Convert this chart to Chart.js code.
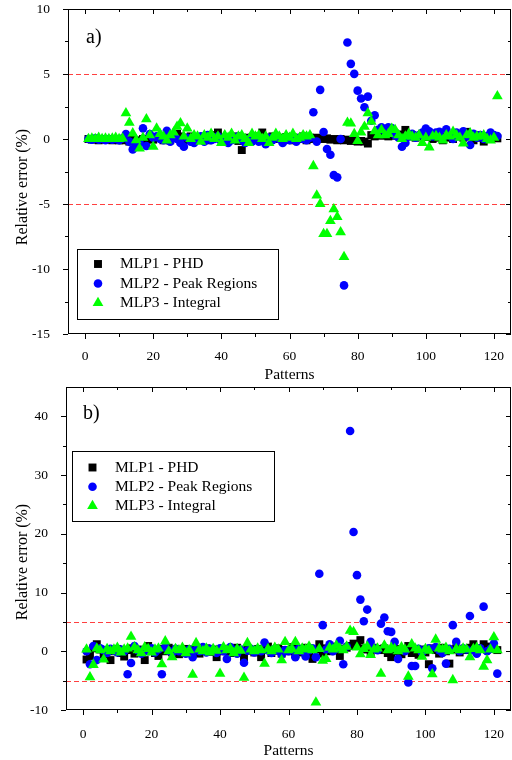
<!DOCTYPE html>
<html>
<head>
<meta charset="utf-8">
<script src="https://cdn.jsdelivr.net/npm/chart.js@4.4.1/dist/chart.umd.min.js"></script>
<style>
  html, body { margin: 0; padding: 0; background: #fff; }
  canvas { position: absolute; left: 0; display: block; }
  #chartA { top: 0; }
  #chartB { top: 384px; }
</style>
</head>
<body>
<canvas id="chartA" width="512" height="384"></canvas>
<canvas id="chartB" width="512" height="376"></canvas>
<script>
const seriesNames = ['MLP1 - PHD', 'MLP2 - Peak Regions', 'MLP3 - Integral'];
const xTicks = [0, 20, 40, 60, 80, 100, 120];
const yTicksA = [-15, -10, -5, 0, 5, 10];
const yTicksB = [-10, 0, 10, 20, 30, 40];
const limitLines = [5, -5];

// panel a) relative error (%) per pattern 1..121
const phdA = [
  0.0, -0.05, 0.0, -0.1, 0.0, -0.05, 0.0, -0.1, -0.05, -0.1,
  -0.1, 0.1, -0.2, 0.05, -0.1, -0.15, 0.0, -0.1, 0.1, -0.05,
  0.15, 0.1, -0.1, 0.2, -0.1, 0.1, 0.4, 0.2, -0.1, 0.1,
  0.2, 0.1, 0.0, 0.15, 0.05, -0.1, 0.2, 0.3, 0.5, 0.0,
  0.1, -0.1, 0.05, 0.2, -0.15, -0.85, 0.1, 0.0, 0.1, 0.2,
  0.0, 0.5, 0.1, -0.1, 0.2, 0.0, 0.1, -0.1, 0.15, 0.0,
  -0.1, 0.1, 0.0, 0.2, -0.1, 0.1, 0.0, 0.1, 0.05, 0.0,
  0.05, -0.05, 0.0, -0.1, 0.0, -0.1, -0.05, -0.15, -0.1, -0.2,
  -0.15, -0.2, -0.35, 0.3, 0.2, 0.35, 0.25, 0.4, 0.2, 0.3,
  0.25, 0.35, 0.1, 0.7, 0.2, 0.3, 0.1, 0.2, 0.4, 0.15,
  0.2, 0.0, 0.3, 0.1, -0.1, 0.2, 0.1, 0.0, 0.3, 0.2,
  0.1, 0.55, 0.2, -0.1, 0.3, 0.1, -0.2, 0.2, 0.0, 0.1, 0.05
];
const peakA = [
  0.0, -0.05, 0.05, -0.05, 0.0, -0.1, 0.0, -0.05, 0.0, -0.1,
  0.05, 0.38, -0.2, -0.8, -0.5, -0.3, 0.82, -0.54, 0.38, 0.1,
  0.2, 0.0, -0.1, 0.64, -0.2, 0.1, 0.0, -0.3, -0.59, 0.1,
  -0.2, -0.3, 0.1, 0.2, -0.2, 0.3, -0.1, 0.0, 0.2, -0.2,
  0.1, -0.3, -0.1, 0.0, 0.2, -0.1, -0.3, 0.0, -0.2, 0.1,
  -0.2, 0.0, -0.4, 0.1, -0.1, 0.2, 0.0, -0.3, 0.1, -0.1,
  0.0, -0.2, 0.1, 0.0, -0.1, 0.1, 2.06, -0.2, 3.78, 0.54,
  -0.77, -1.21, -2.78, -2.95, 0.0, -11.26, 7.42, 5.78, 5.01, 3.72,
  3.11, 2.44, 3.26, 1.4, 1.83, 0.7, 0.9, 0.6, 0.9, 0.85,
  0.3, 0.1, -0.6, -0.3, 0.2, 0.4, 0.1, 0.3, 0.5, 0.8,
  0.6, 0.2, 0.5, 0.55, 0.1, 0.75, 0.3, 0.0, 0.5, 0.3,
  0.6, 0.2, -0.46, 0.4, 0.1, 0.3, 0.0, 0.2, 0.5, 0.3, 0.23
];
const integralA = [
  0.0, 0.05, 0.0, 0.1, 0.0, 0.05, 0.0, 0.05, 0.1, 0.0,
  0.05, 1.98, 1.26, 0.44, -0.08, -0.72, 0.1, 1.52, 0.3, -0.59,
  0.82, 0.4, 0.2, -0.1, 0.3, 0.5, 0.95, 1.21, 0.2, 0.82,
  0.0, 0.3, 0.2, -0.2, 0.3, 0.1, 0.4, 0.0, 0.2, -0.3,
  0.3, 0.1, 0.4, -0.1, 0.2, 0.3, 0.0, -0.3, 0.4, 0.2,
  0.3, 0.0, 0.2, -0.3, 0.1, 0.4, 0.2, 0.0, 0.3, 0.1,
  0.4, 0.0, 0.1, 0.3, 0.2, 0.3, -2.08, -4.34, -5.0, -7.3,
  -7.3, -6.3, -5.4, -6.0, -7.17, -9.07, 1.26, 1.2, 0.39, -0.15,
  0.5, 0.95, 1.98, 1.34, 0.6, 0.3, 0.7, 0.3, 0.4, 0.8,
  0.7, 0.3, 0.0, 0.2, 0.4, 0.2, 0.1, 0.3, -0.3, 0.1,
  -0.64, 0.2, 0.23, 0.1, -0.1, 0.3, 0.2, 0.56, 0.3, 0.1,
  -0.33, 0.3, 0.44, 0.1, 0.2, 0.2, 0.3, 0.0, -0.1, 0.1, 3.3
];

// panel b)
const phdB = [
  -1.4, -0.8, 0.5, 1.2, 0.3, -0.5, 0.2, -1.5, 0.0, 0.4,
  -0.3, -0.9, 0.2, 0.5, -0.4, 0.3, 0.0, -1.5, 0.9, 0.2,
  -0.3, -0.8, 0.4, 0.0, 0.6, -0.2, 0.3, -0.5, 0.1, 0.4,
  -0.2, 0.3, 0.0, -0.4, 0.2, 0.5, -0.1, 0.3, -1.0, 0.2,
  0.0, 0.4, -0.3, 0.2, 0.6, 0.0, -1.0, 0.3, 0.1, -0.2,
  0.4, -1.0, 0.2, 0.8, -0.3, 0.1, 0.5, -0.4, 0.2, 0.0,
  0.7, -0.5, 0.4, -0.2, 0.6, 0.0, -1.3, 0.3, 1.2, -0.4,
  0.5, 0.0, 0.8, 0.3, -0.8, 0.4, 0.6, 0.9, 1.3, 1.0,
  1.9, 0.5, 0.3, -0.2, 0.6, 0.4, 0.2, 0.5, -0.3, -1.0,
  0.0, 0.4, -0.5, 0.2, 0.9, -0.3, 0.1, -0.6, 0.3, -0.2,
  -2.2, 0.5, 0.2, -0.4, 0.6, 0.0, -2.1, 0.3, 0.5, -0.2,
  0.4, 0.2, 0.6, 1.2, 0.0, 0.5, 1.2, 0.3, 0.8, 0.4, 0.2
];
const peakB = [
  0.0, -2.2, 0.9, -1.5, 0.5, 0.2, -0.3, 0.4, 0.1, -0.2,
  0.3, 0.0, -3.9, -2.0, 0.9, 0.2, -0.4, 0.3, 0.0, 0.5,
  -0.2, 0.3, -3.9, 0.7, 0.1, -0.3, 0.4, 0.0, 0.2, -0.4,
  0.3, -1.0, 0.2, 0.0, 0.7, -0.2, 0.4, 0.1, -0.3, 0.5,
  0.0, -1.3, 0.7, 0.2, -0.4, 0.3, -1.96, 0.1, 0.4, -0.2,
  0.3, 0.0, 1.5, 0.2, -0.3, 0.4, 0.1, -0.5, 0.2, 0.0,
  0.3, -1.0, 0.4, 0.0, -0.9, 0.2, 0.5, -1.0, 13.2, 4.45,
  0.3, 1.2, 0.0, 0.5, 1.8, -2.2, 0.8, 37.5, 20.3, 12.96,
  8.8, 5.1, 7.1, 1.6, 0.5, 0.2, 4.7, 5.76, 3.4, 3.3,
  1.6, -1.3, 0.3, 0.0, -5.3, -2.5, -2.5, 0.4, -0.2, 0.3,
  0.5, -2.9, 0.7, 0.2, -0.3, -2.1, 0.4, 4.45, 1.6, 0.0,
  0.5, 0.3, 6.0, 0.2, -0.4, 0.5, 7.6, 0.0, 0.4, 1.3, -3.8
];
const integralB = [
  0.3, -4.4, -2.3, 0.5, 0.2, -1.4, 0.4, 0.0, 0.3, 0.6,
  -0.2, 0.3, 0.5, 2.5, 0.7, 0.2, -0.3, 0.7, 0.4, -0.2,
  0.3, 0.5, -2.2, 1.7, 0.0, -1.0, 0.4, 0.2, 0.6, -0.3,
  0.2, -4.0, 1.4, 0.3, 0.0, 0.5, -0.2, 0.4, 0.1, -3.8,
  0.7, 0.2, 0.5, -0.3, 0.4, 0.1, -4.5, 1.4, 0.3, 0.0,
  0.5, 0.2, -2.1, 0.4, 0.0, 0.6, 0.3, -1.5, 1.6, 0.2,
  0.4, 1.6, 0.0, 0.5, 0.3, 0.8, 0.2, -8.7, 0.4, -1.6,
  -1.3, 0.6, 0.3, 1.0, 0.5, 0.2, 0.8, 3.5, 3.3, 0.66,
  -0.5, 0.4, 0.8, -0.6, 0.3, 0.5, -3.8, 1.0, 0.2, 0.6,
  0.4, 0.0, 0.7, 0.3, -4.3, 1.2, 0.5, 0.2, -0.9, 0.4,
  0.1, -3.9, 2.0, 0.5, 0.3, 0.6, 0.0, -4.9, 0.4, 0.2,
  0.5, 0.3, -1.0, 0.4, 0.6, 0.2, -2.6, -1.5, 0.3, 2.4, 0.2
];

const SERIF = "'Liberation Serif', 'Times New Roman', serif";

// pattern number is the position in the list (1-based)
function toPoints(values) {
  return values.map((v, i) => ({ x: i + 1, y: v }));
}

function midpoints(vals) {
  const out = [];
  for (let i = 0; i < vals.length - 1; i++) out.push((vals[i] + vals[i + 1]) / 2);
  return out;
}

function drawMarker(ctx, style, r, color, cx, cy) {
  ctx.fillStyle = color;
  ctx.beginPath();
  if (style === 'rect') {
    const s = r * Math.SQRT1_2;
    ctx.rect(cx - s, cy - s, 2 * s, 2 * s);
  } else if (style === 'triangle') {
    for (let k = 0; k < 3; k++) {
      const ang = k * 2 * Math.PI / 3;
      const px = cx + Math.sin(ang) * r, py = cy - Math.cos(ang) * r;
      if (k) ctx.lineTo(px, py); else ctx.moveTo(px, py);
    }
    ctx.closePath();
  } else {
    ctx.arc(cx, cy, r, 0, Math.PI * 2);
  }
  ctx.fill();
}

// Origin-like frame: box, mirrored ticks, +/-5% lines, inset legend, panel tag
const originFrame = {
  id: 'originFrame',
  beforeDatasetsDraw(chart) {
    const { ctx, chartArea: a, scales: { y } } = chart;
    ctx.save();
    ctx.strokeStyle = '#ff4040';
    ctx.lineWidth = 1;
    ctx.setLineDash([5, 3]);
    limitLines.forEach(v => {
      const py = Math.round(y.getPixelForValue(v)) + 0.5;
      ctx.beginPath();
      ctx.moveTo(a.left, py);
      ctx.lineTo(a.right, py);
      ctx.stroke();
    });
    ctx.restore();
  },
  afterDraw(chart, args, o) {
    const { ctx, chartArea: a, scales: { x, y } } = chart;
    ctx.save();
    ctx.strokeStyle = '#000';
    ctx.lineWidth = 1;
    ctx.strokeRect(a.left + 0.5, a.top + 0.5, a.right - a.left - 1, a.bottom - a.top - 1);

    ctx.beginPath();
    const addX = (v, len) => {
      const px = Math.round(x.getPixelForValue(v)) + 0.5;
      ctx.moveTo(px, a.bottom); ctx.lineTo(px, a.bottom + len);
      ctx.moveTo(px, a.top); ctx.lineTo(px, a.top + len);
    };
    const addY = (v, len) => {
      const py = Math.round(y.getPixelForValue(v)) + 0.5;
      ctx.moveTo(a.left - len, py); ctx.lineTo(a.left, py);
      ctx.moveTo(a.right - len, py); ctx.lineTo(a.right, py);
    };
    xTicks.forEach(v => addX(v, 5));
    midpoints(xTicks).forEach(v => addX(v, 3));
    o.yTicks.forEach(v => addY(v, 5));
    midpoints(o.yTicks).forEach(v => addY(v, 3));
    ctx.stroke();

    // y axis title
    ctx.fillStyle = '#000';
    ctx.font = '16px ' + SERIF;
    ctx.textAlign = 'center';
    ctx.textBaseline = 'middle';
    ctx.save();
    ctx.translate(o.yTitle.x, o.yTitle.y);
    ctx.rotate(-Math.PI / 2);
    ctx.fillText('Relative error (%)', 0, 0);
    ctx.restore();

    // panel tag
    ctx.font = '20px ' + SERIF;
    ctx.textAlign = 'left';
    ctx.fillText(o.tag.text, o.tag.x, o.tag.y);

    // legend
    const L = o.legend;
    ctx.strokeRect(L.x + 0.5, L.y + 0.5, L.w, L.h);
    ctx.font = '15.5px ' + SERIF;
    chart.data.datasets.forEach((ds, i) => {
      const cy = L.y + L.first + i * L.gap;
      drawMarker(ctx, ds.pointStyle, ds.pointRadius, ds.pointBackgroundColor, L.x + L.markX, cy);
      ctx.fillStyle = '#000';
      ctx.fillText(ds.label, L.x + L.textX, cy);
    });
    ctx.restore();
  }
};

function datasets(phd, peak, integral) {
  return [
    { label: seriesNames[0], data: toPoints(phd), pointStyle: 'rect', pointRadius: 5.6,
      pointBackgroundColor: '#000000', pointBorderWidth: 0, order: 3 },
    { label: seriesNames[1], data: toPoints(peak), pointStyle: 'circle', pointRadius: 4.3,
      pointBackgroundColor: '#0000ff', pointBorderWidth: 0, order: 2 },
    { label: seriesNames[2], data: toPoints(integral), pointStyle: 'triangle', pointRadius: 6.2,
      pointBackgroundColor: '#00ff00', pointBorderWidth: 0, order: 1 }
  ];
}

function makeChart(id, sets, cfg) {
  return new Chart(document.getElementById(id), {
    type: 'scatter',
    data: { datasets: sets },
    options: {
      responsive: false,
      animation: false,
      events: [],
      layout: { autoPadding: false, padding: { top: cfg.padTop, right: 1, bottom: 0, left: 0 } },
      plugins: {
        legend: { display: false },
        tooltip: { enabled: false },
        originFrame: cfg.frame
      },
      scales: {
        x: {
          type: 'linear', min: -5, max: 125,
          afterBuildTicks: s => { s.ticks = xTicks.map(v => ({ value: v })); },
          afterFit: s => { s.height = 50; s.paddingLeft = 0; s.paddingRight = 0; },
          grid: { display: false },
          border: { display: false },
          ticks: { color: '#000', font: { family: SERIF, size: 13.5 }, padding: cfg.xPad, maxRotation: 0 },
          title: { display: true, text: 'Patterns', color: '#000',
                   font: { family: SERIF, size: 15.5 }, padding: { top: 0, bottom: 0 } }
        },
        y: {
          type: 'linear', min: cfg.yMin, max: cfg.yMax,
          afterBuildTicks: s => { s.ticks = cfg.frame.yTicks.map(v => ({ value: v })); },
          afterFit: s => { s.width = cfg.yWidth; s.paddingTop = 0; s.paddingBottom = 0; },
          grid: { display: false },
          border: { display: false },
          ticks: { color: '#000', font: { family: SERIF, size: 13.5 }, padding: 10 }
        }
      }
    },
    plugins: [originFrame]
  });
}

makeChart('chartA', datasets(phdA, peakA, integralA), {
  padTop: 9, yMin: -15, yMax: 10, yWidth: 68, xPad: 6,
  frame: {
    yTicks: yTicksA,
    yTitle: { x: 23, y: 187 },
    tag: { text: 'a)', x: 86, y: 38 },
    legend: { x: 77, y: 249, w: 201, h: 70, first: 15, gap: 19.5, markX: 21, textX: 43 }
  }
});

makeChart('chartB', datasets(phdB, peakB, integralB), {
  padTop: 3, yMin: -10, yMax: 45, yWidth: 66, xPad: 8,
  frame: {
    yTicks: yTicksB,
    yTitle: { x: 23, y: 178 },
    tag: { text: 'b)', x: 83, y: 30 },
    legend: { x: 72, y: 67, w: 202, h: 70, first: 16.5, gap: 19.2, markX: 20.5, textX: 43 }
  }
});
</script>
</body>
</html>
